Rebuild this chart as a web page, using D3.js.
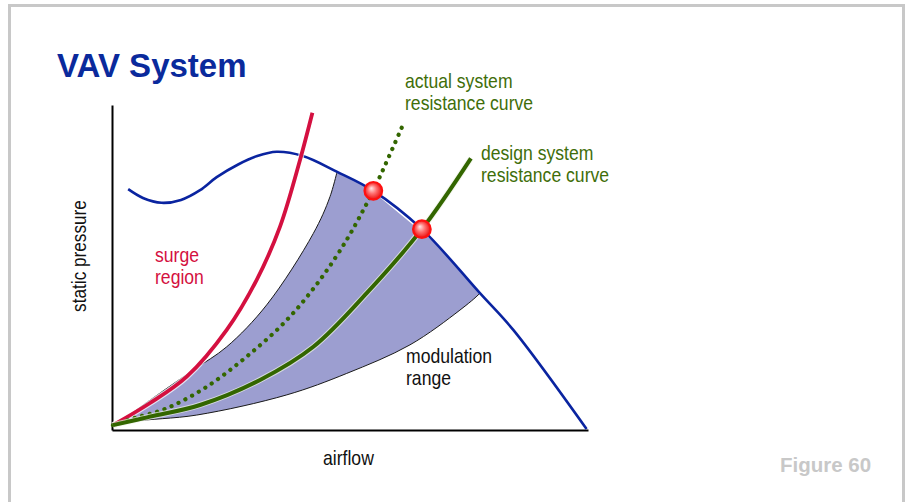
<!DOCTYPE html>
<html>
<head>
<meta charset="utf-8">
<script src="https://cdn.jsdelivr.net/npm/d3@7/dist/d3.min.js"></script>
<style>
  html, body { margin: 0; padding: 0; background: #fff; }
  svg { display: block; }
  text { font-family: "Liberation Sans", Arial, Helvetica, sans-serif; }
</style>
</head>
<body>
<svg id="chart" width="906" height="502"></svg>
<script>
// Airflow and static pressure in relative units (0-100)
const airflowDomain = [0, 100];
const pressureDomain = [0, 100];

// Fan performance curve (static pressure vs airflow)
const fanCurve = [
  [3.4, 74.1], [6.5, 71.4], [10.4, 69.9], [14.5, 70.8], [18.5, 73.8],
  [22.0, 77.8], [26.5, 81.7], [30.5, 84.3], [34.6, 85.6], [40.1, 84.3],
  [47.2, 79.5], [54.9, 73.6], [65.1, 61.8], [77.3, 42.1], [84.3, 30.8],
  [99.7, 0.3]
];

// Surge line
const surgeLine = [
  [0.2, 1.5], [8.0, 8.3], [15.7, 16.4], [24.1, 30.8], [30.4, 46.2],
  [35.3, 62.6], [39.5, 83.1], [42.1, 97.6]
];

// Design system resistance curve
const designSystem = [
  [0.2, 1.5], [8.0, 4.1], [18.5, 7.7], [31.1, 15.4], [42.3, 25.6],
  [53.5, 42.1], [65.1, 61.8], [75.4, 83.6]
];

// Actual system resistance curve
const actualSystem = [
  [0.2, 1.5], [4.5, 3.6], [11.5, 6.7], [19.9, 13.3], [28.3, 22.6],
  [36.7, 33.8], [43.7, 46.2], [49.3, 58.5], [52.8, 67.7], [54.9, 73.6],
  [61.1, 93.8]
];

// Modulation range: left (high-resistance) and right (low-resistance) limits
const modulationLeft = [
  [0.2, 1.0], [8.0, 9.2], [17.1, 18.5], [24.1, 25.6], [32.5, 38.5],
  [42.3, 60.5], [45.8, 71.8], [47.7, 82.0]
];
const modulationRight = [
  [78.6, 44.5], [77.3, 42.1], [73.1, 36.9], [62.6, 26.2], [49.3, 17.4],
  [36.7, 10.8], [17.8, 4.6], [4.5, 2.6], [0.2, 1.0]
];

// Operating points: fan curve meets each system curve
const operatingPoints = [[54.9, 73.6], [65.1, 61.8]];

const svg = d3.select("#chart");

// Frame
svg.append("rect")
  .attr("x", 9.5).attr("y", 5.5).attr("width", 894).attr("height", 620)
  .attr("fill", "#fff").attr("stroke", "#c8c8c8").attr("stroke-width", 3);

const x = d3.scaleLinear().domain(airflowDomain).range([112, 588]);
const y = d3.scaleLinear().domain(pressureDomain).range([430, 105]);

const line = d3.line().x(d => x(d[0])).y(d => y(d[1])).curve(d3.curveCatmullRom.alpha(0.5));

const defs = svg.append("defs");

// Region under the fan curve, used to trim the modulation band
defs.append("clipPath").attr("id", "underFan")
  .append("path")
  .attr("d", d3.area().x(d => x(d[0])).y0(y(0)).y1(d => y(d[1]))
    .curve(d3.curveCatmullRom.alpha(0.5))([[0, 74.1]].concat(fanCurve)));

const ball = defs.append("radialGradient").attr("id", "ball")
  .attr("cx", "50%").attr("cy", "50%").attr("r", "55%")
  .attr("fx", "38%").attr("fy", "35%");
ball.append("stop").attr("offset", "0%").attr("stop-color", "#ffe8e8");
ball.append("stop").attr("offset", "45%").attr("stop-color", "#ff7070");
ball.append("stop").attr("offset", "100%").attr("stop-color", "#e80000");

// Modulation band
const band = svg.append("g").attr("clip-path", "url(#underFan)");
band.append("path")
  .attr("d", line(modulationLeft) + "L" + line(modulationRight).slice(1) + "Z")
  .attr("fill", "#9c9ed0").attr("stroke", "none");
band.append("path").attr("d", line(modulationLeft))
  .attr("fill", "none").attr("stroke", "#1a1a1a").attr("stroke-width", 1);
band.append("path").attr("d", line(modulationRight))
  .attr("fill", "none").attr("stroke", "#1a1a1a").attr("stroke-width", 1);

// Axes (no ticks)
svg.append("g").attr("transform", `translate(0,${y(0)})`)
  .call(d3.axisBottom(x).tickValues([]).tickSizeOuter(0))
  .select(".domain").attr("stroke", "#000").attr("stroke-width", 2);
svg.append("g").attr("transform", `translate(${x(0)},0)`)
  .call(d3.axisLeft(y).tickValues([]).tickSizeOuter(0))
  .select(".domain").attr("stroke", "#000").attr("stroke-width", 2);

// Fan curve
svg.append("path").attr("d", line(fanCurve))
  .attr("fill", "none").attr("stroke", "#0a24a0").attr("stroke-width", 2.6);

// Surge line
svg.append("path").attr("d", line(surgeLine))
  .attr("fill", "none").attr("stroke", "#fff").attr("stroke-width", 6).attr("opacity", 0.7);
svg.append("path").attr("d", line(surgeLine))
  .attr("fill", "none").attr("stroke", "#d41040").attr("stroke-width", 3.8);

// Actual system curve (dotted)
svg.append("path").attr("d", line(actualSystem))
  .attr("fill", "none").attr("stroke", "#336600").attr("stroke-width", 4.2)
  .attr("stroke-linecap", "round").attr("stroke-dasharray", "0.1 7.6");

// Design system curve
svg.append("path").attr("d", line(designSystem))
  .attr("fill", "none").attr("stroke", "#eef2e6").attr("stroke-width", 6).attr("opacity", 0.7);
svg.append("path").attr("d", line(designSystem))
  .attr("fill", "none").attr("stroke", "#336600").attr("stroke-width", 4);

// Operating points
svg.selectAll("circle.op").data(operatingPoints).join("circle")
  .attr("class", "op")
  .attr("cx", d => x(d[0])).attr("cy", d => y(d[1])).attr("r", 8.8)
  .attr("fill", "url(#ball)").attr("stroke", "#ff1010").attr("stroke-width", 2.2);

// Labels
svg.append("text").attr("x", 57).attr("y", 76.5)
  .attr("font-size", 33).attr("font-weight", "bold").attr("fill", "#0a2a9c")
  .text("VAV System");

function narrowText(lines, px, py, color, lineGap) {
  const g = svg.append("g").attr("transform", `translate(${px},${py}) scale(0.88,1)`);
  lines.forEach((t, i) => {
    g.append("text").attr("x", 0).attr("y", i * lineGap)
      .attr("font-size", 20).attr("fill", color).text(t);
  });
}
narrowText(["actual system", "resistance curve"], 405, 88, "#3f6e0a", 22);
narrowText(["design system", "resistance curve"], 481, 160, "#3f6e0a", 22);
narrowText(["surge", "region"], 155, 262, "#d41040", 22);
narrowText(["modulation", "range"], 406, 363, "#111", 22);
narrowText(["airflow"], 323, 465, "#111", 22);

svg.append("g").attr("transform", "translate(86,256) rotate(-90) scale(0.86,1)")
  .append("text").attr("text-anchor", "middle").attr("font-size", 20)
  .attr("fill", "#111").text("static pressure");

svg.append("text").attr("x", 780).attr("y", 472)
  .attr("font-size", 20.5).attr("font-weight", "bold").attr("fill", "#c8c8c8")
  .text("Figure 60");
</script>
</body>
</html>
